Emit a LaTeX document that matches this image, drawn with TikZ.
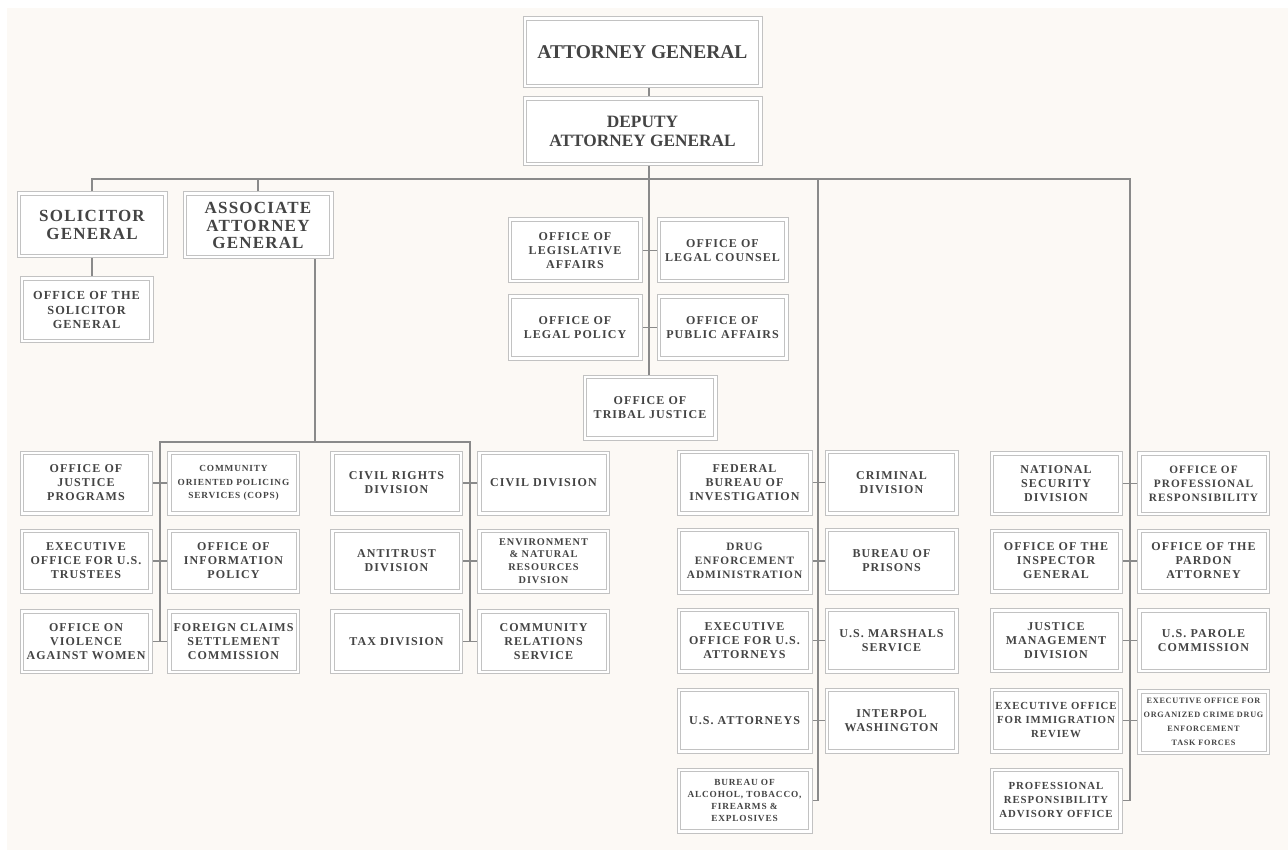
\documentclass[tikz,border=0pt]{standalone}
\usepackage{fontspec}
\setmainfont{Liberation Serif}
\newfontfamily\lsfont[LetterSpace=9]{Liberation Serif}
\newfontfamily\lsbig[LetterSpace=7]{Liberation Serif}
\definecolor{bgc}{HTML}{FCF9F5}
\definecolor{boxc}{HTML}{C2C2C2}
\definecolor{connc}{HTML}{8A8A8A}
\definecolor{txtc}{HTML}{444444}
\begin{document}
\begin{tikzpicture}[x=1pt,y=-1pt,
  box/.style={draw=boxc, line width=1pt, fill=white,
    path picture={\draw[boxc, line width=1pt]
      ([shift={(3.5pt,-3.5pt)}]path picture bounding box.north west) rectangle
      ([shift={(-3.5pt,3.5pt)}]path picture bounding box.south east);},
    align=center, text=txtc, inner sep=1pt, minimum width=132pt, minimum height=64pt,
    font=\lsfont\bfseries\fontsize{12}{14}\selectfont},
  small/.style={font=\lsfont\bfseries\fontsize{9.3}{13.5}\selectfont},
  tiny/.style={font=\lsfont\bfseries\fontsize{8.2}{14}\selectfont},
  mid/.style={font=\lsbig\bfseries\fontsize{17}{18.5}\selectfont},
  conn/.style={draw=connc, line width=1.8pt}]
\useasboundingbox (0,0) rectangle (1288,850);
\fill[white] (0,0) rectangle (1288,850);
\fill[bgc] (7,8) rectangle (1288,850);
% top
\node[box, minimum width=239pt, minimum height=71pt, font=\bfseries\fontsize{19.5}{22}\selectfont] (ag) at (642.5,52.5) {ATTORNEY GENERAL};
\node[box, minimum width=239pt, minimum height=69pt, font=\bfseries\fontsize{17.3}{18.5}\selectfont] (dag) at (642.5,131.5) {DEPUTY\\ATTORNEY GENERAL};
\node[box, mid, minimum width=150pt, minimum height=66pt] (sg) at (92,225) {SOLICITOR\\GENERAL};
\node[box, mid, minimum width=150pt, minimum height=67pt, font=\lsbig\bfseries\fontsize{17}{17.8}\selectfont] (aag) at (258,225.5) {ASSOCIATE\\ATTORNEY\\GENERAL};
\node[box, minimum width=133pt, minimum height=66pt, font=\lsfont\bfseries\fontsize{12.3}{14.5}\selectfont] (osg) at (86.5,310) {OFFICE OF THE\\SOLICITOR\\GENERAL};
% central offices
\node[box, minimum width=134pt, minimum height=65pt] (ola) at (575,250.5) {OFFICE OF\\LEGISLATIVE\\AFFAIRS};
\node[box, minimum width=131pt, minimum height=65pt] (olc) at (722.5,250.5) {OFFICE OF\\LEGAL COUNSEL};
\node[box, minimum width=134pt, minimum height=65pt] (olp) at (575,327.5) {OFFICE OF\\LEGAL POLICY};
\node[box, minimum width=131pt, minimum height=65pt] (opa) at (722.5,327.5) {OFFICE OF\\PUBLIC AFFAIRS};
\node[box, minimum width=134pt, minimum height=65pt] (otj) at (650,407.5) {OFFICE OF\\TRIBAL JUSTICE};
% left group
\node[box] (ojp) at (86,483) {OFFICE OF\\JUSTICE\\PROGRAMS};
\node[box, small] (cops) at (233.5,483) {COMMUNITY\\ORIENTED POLICING\\SERVICES (COPS)};
\node[box] (eout) at (86,561) {EXECUTIVE\\OFFICE FOR U.S.\\TRUSTEES};
\node[box] (oip) at (233.5,561) {OFFICE OF\\INFORMATION\\POLICY};
\node[box] (ovw) at (86,641.5) {OFFICE ON\\VIOLENCE\\AGAINST WOMEN};
\node[box] (fcsc) at (233.5,641.5) {FOREIGN CLAIMS\\SETTLEMENT\\COMMISSION};
% middle group
\node[box] (crd) at (396.5,483) {CIVIL RIGHTS\\DIVISION};
\node[box] (civ) at (543.5,483) {CIVIL DIVISION};
\node[box] (atd) at (396.5,561) {ANTITRUST\\DIVISION};
\node[box, font=\lsfont\bfseries\fontsize{10.3}{12.7}\selectfont] (enrd) at (543.5,561) {ENVIRONMENT\\\& NATURAL\\RESOURCES\\DIVSION};
\node[box] (tax) at (396.5,641.5) {TAX DIVISION};
\node[box] (crs) at (543.5,641.5) {COMMUNITY\\RELATIONS\\SERVICE};
% law enforcement column
\node[box, minimum width=135pt, minimum height=65pt] (fbi) at (744.5,482.5) {FEDERAL\\BUREAU OF\\INVESTIGATION};
\node[box, minimum width=133pt, minimum height=65pt] (crim) at (891.5,482.5) {CRIMINAL\\DIVISION};
\node[box, minimum width=135pt, minimum height=66pt, font=\lsfont\bfseries\fontsize{11.3}{14}\selectfont] (dea) at (744.5,561) {DRUG\\ENFORCEMENT\\ADMINISTRATION};
\node[box, minimum width=133pt, minimum height=66pt] (bop) at (891.5,561) {BUREAU OF\\PRISONS};
\node[box, minimum width=135pt, minimum height=65pt] (eousa) at (744.5,640.5) {EXECUTIVE\\OFFICE FOR U.S.\\ATTORNEYS};
\node[box, minimum width=133pt, minimum height=65pt] (usms) at (891.5,640.5) {U.S. MARSHALS\\SERVICE};
\node[box, minimum width=135pt, minimum height=65pt] (usa) at (744.5,720.5) {U.S. ATTORNEYS};
\node[box, minimum width=133pt, minimum height=65pt] (interpol) at (891.5,720.5) {INTERPOL\\WASHINGTON};
\node[box, minimum width=135pt, minimum height=65pt, font=\lsfont\bfseries\fontsize{9.3}{11.7}\selectfont] (atf) at (744.5,800.5) {BUREAU OF\\ALCOHOL, TOBACCO,\\FIREARMS \&\\EXPLOSIVES};
% right group
\node[box] (nsd) at (1056,483.5) {NATIONAL\\SECURITY\\DIVISION};
\node[box, font=\lsfont\bfseries\fontsize{11.3}{14}\selectfont] (opr) at (1203.5,483.5) {OFFICE OF\\PROFESSIONAL\\RESPONSIBILITY};
\node[box] (oig) at (1056,561) {OFFICE OF THE\\INSPECTOR\\GENERAL};
\node[box] (opa2) at (1203.5,561) {OFFICE OF THE\\PARDON\\ATTORNEY};
\node[box] (jmd) at (1056,640.5) {JUSTICE\\MANAGEMENT\\DIVISION};
\node[box] (uspc) at (1203.5,640.5) {U.S. PAROLE\\COMMISSION};
\node[box, minimum height=65pt, font=\lsfont\bfseries\fontsize{10.8}{14}\selectfont] (eoir) at (1056,720.5) {EXECUTIVE OFFICE\\FOR IMMIGRATION\\REVIEW};
\node[box, tiny, minimum height=65pt] (ocdetf) at (1203.5,722) {EXECUTIVE OFFICE FOR\\ORGANIZED CRIME DRUG\\ENFORCEMENT\\TASK FORCES};
\node[box, minimum height=65pt, font=\lsfont\bfseries\fontsize{10.8}{14}\selectfont] (prao) at (1056,800.5) {PROFESSIONAL\\RESPONSIBILITY\\ADVISORY OFFICE};
% coordinates of the trunk lines
\coordinate (bar) at (0,179);
\coordinate (cv) at (649,0);
\coordinate (fv) at (818,0);
\coordinate (rv) at (1130,0);
\coordinate (av) at (315,0);
\coordinate (lv) at (160,0);
\coordinate (mv) at (470,0);
\coordinate (hb) at (0,442);
% connectors
\draw[conn, line width=1.2pt] (ag.south -| cv) -- (dag.north -| cv);
\draw[conn] (sg.north) |- (rv |- bar) |- (prao.east);
\draw[conn] (aag.north) -- (aag.north |- bar);
\draw[conn] (dag.south -| cv) -- (otj.north -| cv);
\draw[conn] (fv |- bar) |- (atf.east);
\draw[conn] (sg.south) -- (osg.north -| sg.south);
\draw[conn] (aag.south -| av) -- (av |- hb);
\draw[conn] (ovw.east -| lv) -- (lv |- hb) -- (mv |- hb) -- (tax.east -| mv);
% stubs
\draw[conn] (ola.east) -- (olc.west);
\draw[conn] (olp.east) -- (opa.west);
\draw[conn] (ojp.east) -- (cops.west);
\draw[conn] (eout.east) -- (oip.west);
\draw[conn] (ovw.east) -- (fcsc.west);
\draw[conn] (crd.east) -- (civ.west);
\draw[conn] (atd.east) -- (enrd.west);
\draw[conn] (tax.east) -- (crs.west);
\draw[conn] (fbi.east) -- (crim.west);
\draw[conn] (dea.east) -- (bop.west);
\draw[conn] (eousa.east) -- (usms.west);
\draw[conn] (usa.east) -- (interpol.west);
\draw[conn] (nsd.east) -- (opr.west);
\draw[conn] (oig.east) -- (opa2.west);
\draw[conn] (jmd.east) -- (uspc.west);
\draw[conn] (eoir.east) -- (ocdetf.west |- eoir.east);
\end{tikzpicture}
\end{document}
